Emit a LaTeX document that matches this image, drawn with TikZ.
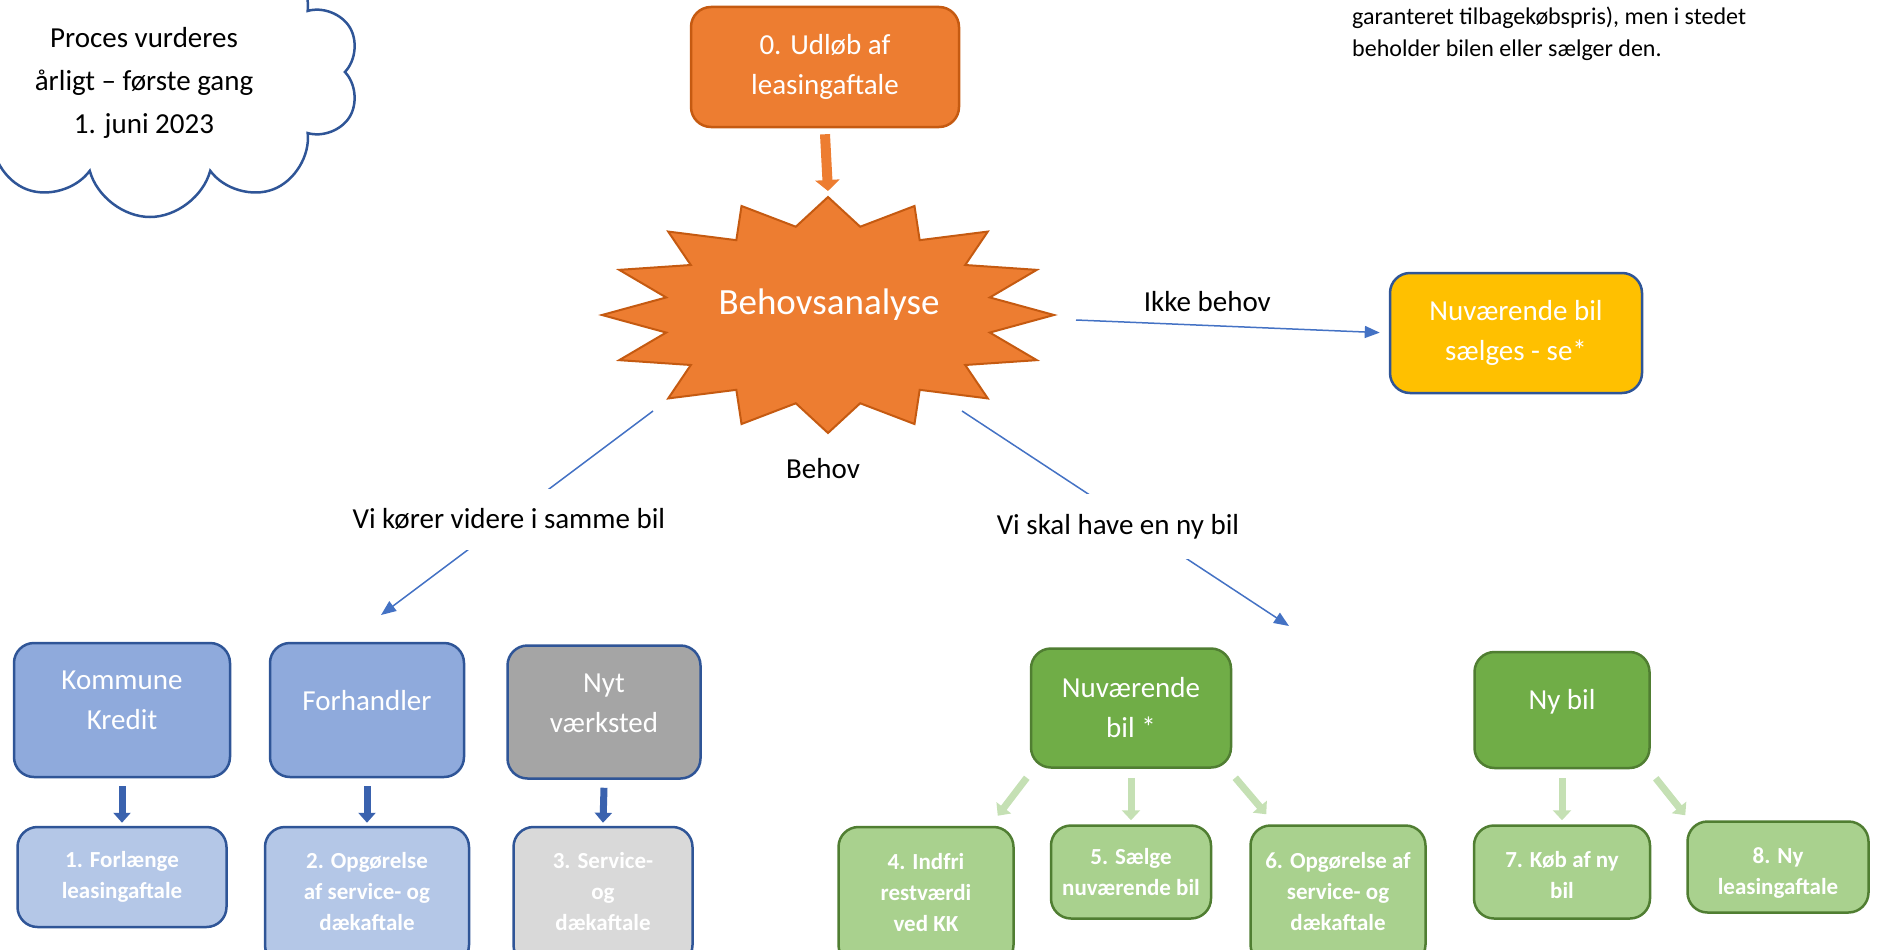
\documentclass[tikz,border=0pt]{standalone}
\usepackage{fontspec}
\setmainfont{Carlito}
\usepackage{tikz}
\usetikzlibrary{shapes.symbols, arrows.meta}

\definecolor{orangeF}{HTML}{ED7D31}
\definecolor{orangeD}{HTML}{C55A11}
\definecolor{blueD}{HTML}{2F5597}
\definecolor{blueF}{HTML}{8FAADC}
\definecolor{blueL}{HTML}{B4C7E7}
\definecolor{blueC}{HTML}{4472C4}
\definecolor{blueA}{HTML}{3A62AE}
\definecolor{grayF}{HTML}{A5A5A5}
\definecolor{grayL}{HTML}{D9D9D9}
\definecolor{yellowF}{HTML}{FFC000}
\definecolor{greenF}{HTML}{70AD47}
\definecolor{greenD}{HTML}{507E32}
\definecolor{greenL}{HTML}{A9D18E}
\definecolor{greenA}{HTML}{C5E0B4}

\begin{document}
\begin{tikzpicture}[x=1pt, y=-1pt,
    box/.style={rectangle, rounded corners=20pt, line width=2.5pt, text=white, align=center, inner sep=0pt},
    bigtxt/.style={font=\fontsize{29}{40}\selectfont},
    smalltxt/.style={font=\fontsize{23}{31}\selectfont\bfseries},
    lbl/.style={bigtxt, text=black, inner sep=0pt},
    conn/.style={draw=blueC, line width=1.5pt, -{Triangle[width=12pt, length=15pt]}},
    blockarrow/.style={draw=blueA, line width=7pt, -{Triangle[width=17pt, length=10pt]}},
    greenarrow/.style={draw=greenA, line width=7pt, -{Triangle[width=18pt, length=10pt]}},
    orangearrow/.style={draw=orangeF, line width=10pt, -{Triangle[width=24pt, length=11pt]}}]
    \useasboundingbox (0,0) rectangle (1879,950);
    \clip (0,0) rectangle (1879,950);

    % Cloud and note
    \node[cloud, cloud puffs=10, draw=blueD, fill=white, line width=2.5pt, minimum width=420pt, minimum height=290pt] (sky) at (150,72) {};
    \node[align=center, font=\fontsize{29}{43}\selectfont] (aarlig) at (144,83) {Proces vurderes\\årligt – første gang\\1. juni 2023};
    \node[lbl, anchor=west, align=left, font=\fontsize{24}{32}\selectfont] (note) at (1352,34) {garanteret tilbagekøbspris), men i stedet\\beholder bilen eller sælger den.};

    % Start and analysis
    \node[box, bigtxt, fill=orangeF, draw=orangeD, minimum width=268pt, minimum height=120pt] (udlob) at (825,67) {0. Udløb af\\leasingaftale};
    \begin{scope}[shift={(828,315)}]
        \draw[fill=orangeF, draw=orangeD, line width=2pt] (0:226 and 118) \foreach \k in {1,...,16} { -- (\k*22.5-11.25:165 and 90) -- (\k*22.5:226 and 118) } -- cycle;
    \end{scope}
    \node[text=white, font=\fontsize{37}{44}\selectfont] (analyse) at (829,305) {Behovsanalyse};
    \node[lbl] (behov) at (823,469) {Behov};

    \coordinate (burstN) at (828,191);
    \coordinate (burstL) at (653,411);
    \coordinate (burstR) at (962,411);
    \coordinate (burstE) at (1076,320);
    \coordinate (venstre) at (381,615);
    \coordinate (hoejre) at (1289,626);

    % No need
    \node[box, bigtxt, fill=yellowF, draw=blueD, minimum width=252pt, minimum height=120pt] (salg) at (1516,333) {Nuværende bil\\sælges - se*};

    % Same car
    \node[box, bigtxt, fill=blueF, draw=blueD, minimum width=216pt, minimum height=134pt, text depth=20pt] (kk) at (122,710) {Kommune\\Kredit};
    \node[box, bigtxt, fill=blueF, draw=blueD, minimum width=194pt, minimum height=134pt, text depth=19pt] (forh) at (367,710) {Forhandler};
    \node[box, bigtxt, fill=grayF, draw=blueD, minimum width=193pt, minimum height=133pt, text depth=18pt] (nytv) at (604,712) {Nyt\\værksted};
    \node[box, smalltxt, fill=blueL, draw=blueD, minimum width=209pt, minimum height=100pt] (b1) at (122,877) {1. Forlænge\\leasingaftale};
    \node[box, smalltxt, fill=blueL, draw=blueD, minimum width=204pt, minimum height=138pt, text depth=9pt] (b2) at (367,896) {2. Opgørelse\\af service- og\\dækaftale};
    \node[box, smalltxt, fill=grayL, draw=blueD, minimum width=179pt, minimum height=138pt, text depth=9pt] (b3) at (603,896) {3. Service-\\og\\dækaftale};

    % New car
    \node[box, bigtxt, fill=greenF, draw=greenD, minimum width=200pt, minimum height=119pt] (nb) at (1131,708) {Nuværende\\bil *};
    \node[box, bigtxt, fill=greenF, draw=greenD, minimum width=175pt, minimum height=116pt, text depth=22pt] (nyb) at (1562,710) {Ny bil};
    \node[box, smalltxt, fill=greenL, draw=greenD, minimum width=175pt, minimum height=138pt, text depth=7pt] (b4) at (926,896) {4. Indfri\\restværdi\\ved KK};
    \node[box, smalltxt, fill=greenL, draw=greenD, minimum width=160pt, minimum height=93pt] (b5) at (1131,872) {5. Sælge\\nuværende bil};
    \node[box, smalltxt, fill=greenL, draw=greenD, minimum width=175pt, minimum height=139pt, text depth=7pt] (b6) at (1338,895) {6. Opgørelse af\\service- og\\dækaftale};
    \node[box, smalltxt, fill=greenL, draw=greenD, minimum width=176pt, minimum height=93pt, text height=53pt] (b7) at (1562,872) {7. Køb af ny\\bil};
    \node[box, smalltxt, fill=greenL, draw=greenD, minimum width=181pt, minimum height=91pt, text height=58pt] (b8) at (1778,867) {8. Ny\\leasingaftale};

    % Connections
    \draw[orangearrow] ([yshift=-6pt]udlob.south) -- (burstN);
    \draw[conn, shorten >=9pt] (burstE) -- node[lbl, pos=0.42, above=13pt] {Ikke behov} (salg.west);
    \draw[conn] (burstL) -- node[lbl, pos=0.53, fill=white, inner ysep=20pt, inner xsep=4pt] {Vi kører videre i samme bil} (venstre);
    \draw[conn] (burstR) -- node[lbl, pos=0.477, yshift=-13pt, fill=white, inner ysep=20pt, inner xsep=4pt] {Vi skal have en ny bil} (hoejre);

    \draw[blockarrow] ([yshift=-8pt]kk.south) -- ([yshift=3pt]b1.north);
    \draw[blockarrow] ([yshift=-8pt]forh.south) -- ([yshift=3pt]b2.north);
    \draw[blockarrow] ([yshift=-8pt]nytv.south) -- ([yshift=3pt]b3.north);

    \draw[greenarrow] ([xshift=-3pt, yshift=-9pt]nb.south west) -- ([xshift=-17pt, yshift=10pt]b4.north east);
    \draw[greenarrow] ([yshift=-9pt]nb.south) -- ([yshift=4pt]b5.north);
    \draw[greenarrow] ([xshift=3pt, yshift=-9pt]nb.south east) -- ([xshift=17pt, yshift=10pt]b6.north west);
    \draw[greenarrow] ([yshift=-9pt]nyb.south) -- ([yshift=4pt]b7.north);
    \draw[greenarrow] ([xshift=5pt, yshift=-9pt]nyb.south east) -- ([xshift=-1pt, yshift=5pt]b8.north west);
\end{tikzpicture}
\end{document}
